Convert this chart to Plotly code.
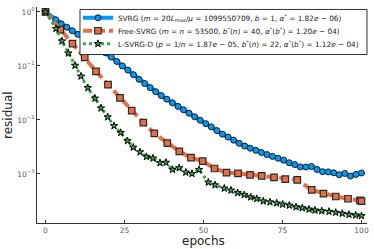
import plotly.graph_objects as go

# ---------------- data ----------------
svrg_epochs = [0, 3.2, 4.96, 6.72, 8.48, 10.24, 12.0, 13.76, 15.52, 17.28, 19.04, 20.8,
               22.56, 24.32, 26.08, 27.84, 29.6, 31.36, 33.12, 34.88, 36.64, 38.4, 40.16,
               41.92, 43.68, 45.44, 47.2, 48.96, 50.72, 52.48, 54.24, 56.0, 57.76, 59.52,
               61.28, 63.04, 64.8, 66.56, 68.32, 70.08, 71.84, 73.6, 75.36, 77.12, 78.88,
               80.64, 82.4, 84.16, 85.92, 87.68, 89.44, 91.2, 92.96, 94.72, 96.48, 98.24, 100.0]
svrg_res = [1.0, 0.718, 0.603, 0.522, 0.448, 0.384, 0.331, 0.281, 0.242, 0.207,
            0.174, 0.146, 0.121, 0.100, 0.0836, 0.0686, 0.0564, 0.0473, 0.0396, 0.0333,
            0.0282, 0.0242, 0.0207, 0.0178, 0.0154, 0.0133, 0.0114, 0.00984, 0.00853, 0.00743,
            0.00634, 0.00545, 0.00481, 0.00422, 0.00369, 0.00328, 0.00299, 0.00273, 0.00249, 0.00228,
            0.00211, 0.00195, 0.00180, 0.00161, 0.00149, 0.00135, 0.00134, 0.00137, 0.00121, 0.00110,
            0.00109, 0.00105, 0.000966, 0.00102, 0.000912, 0.000980, 0.00104]

free_epochs = [0, 4.68, 8.54, 12.41, 15.98, 19.78, 23.58, 27.28, 30.95, 34.43, 38.54, 42.34,
               46.04, 49.75, 53.48, 57.28, 60.92, 64.72, 68.42, 72.31, 75.89, 79.68, 84.24,
               87.97, 91.87, 95.73, 99.53, 100.0]
free_res = [1.0, 0.471, 0.259, 0.144, 0.0794, 0.0451, 0.0256, 0.0149, 0.00893, 0.00564,
            0.00371, 0.00262, 0.00200, 0.00172, 0.00126, 0.00106, 0.00102, 0.000959, 0.000920,
            0.000863, 0.000801, 0.000778, 0.000506, 0.000433, 0.000382, 0.000347, 0.000323, 0.000314]

lsvrg_epochs = [0, 3.32, 5.22, 7.22, 9.34, 11.23, 13.39, 15.66, 17.56, 19.68, 21.68, 23.80,
                25.95, 27.78, 29.91, 31.96, 34.02, 36.23, 38.13, 40.19, 42.31, 44.40, 46.36,
                48.58, 51.52, 53.64, 56.58, 58.70, 60.82, 62.91, 64.94, 66.84, 68.92, 71.04,
                73.16, 75.06, 77.15, 79.27, 81.27, 83.39, 85.28, 87.41, 89.72, 91.84, 93.92,
                96.04, 98.16, 100.0]
lsvrg_res = [1.0, 0.491, 0.288, 0.172, 0.102, 0.0644, 0.0393, 0.0251, 0.0165, 0.0113,
             0.00778, 0.00580, 0.00410, 0.00310, 0.00254, 0.00208, 0.00195, 0.00160, 0.00163, 0.00120,
             0.00129, 0.00107, 0.00101, 0.00120, 0.000700, 0.000623, 0.000541, 0.000497, 0.000446,
             0.000410, 0.000371, 0.000347, 0.000313, 0.000301, 0.000288, 0.000273, 0.000262,
             0.000244, 0.000234, 0.000221, 0.000212, 0.000206, 0.000201, 0.000193, 0.000185,
             0.000177, 0.000172, 0.000167]

names = [
    "SVRG (<i>m</i> = 20<i>L</i><sub>max</sub>/<i>μ</i> = 1099550709, <i>b</i> = 1, <i>α</i><sup>*</sup> = 1.82<i>e</i> − 06)",
    "Free-SVRG (<i>m</i> = <i>n</i> = 53500, <i>b</i><sup>*</sup>(<i>n</i>) = 40, <i>α</i><sup>*</sup>(<i>b</i><sup>*</sup>) = 1.20<i>e</i> − 04)",
    "L-SVRG-D (<i>p</i> = 1/<i>n</i> = 1.87<i>e</i> − 05, <i>b</i><sup>*</sup>(<i>n</i>) = 22, <i>α</i><sup>*</sup>(<i>b</i><sup>*</sup>) = 1.12<i>e</i> − 04)",
]

x_ticks = [0, 25, 50, 75, 100]
y_ticks = [1, 0.1, 0.01, 0.001]
y_ticktext = ["10<sup>0</sup>", "10<sup>−1</sup>", "10<sup>−2</sup>", "10<sup>−3</sup>"]

blue = "#009AFA"
orange = "#E36F47"
green = "#3EA44E"
FONT = "DejaVu Sans"

fig = go.Figure()
fig.add_trace(go.Scatter(
    x=svrg_epochs, y=svrg_res, name=names[0], mode="lines+markers", legend="legend",
    line=dict(color=blue, width=4),
    marker=dict(symbol="circle", size=6, color=blue, line=dict(color="#1a1a1a", width=1)),
))
fig.add_trace(go.Scatter(
    x=free_epochs, y=free_res, name=names[1], mode="lines+markers", legend="legend2",
    line=dict(color=orange, width=4, dash="9px,4px"),
    marker=dict(symbol="square", size=6.5, color=orange, line=dict(color="#2a2a2a", width=1.2)),
))
fig.add_trace(go.Scatter(
    x=lsvrg_epochs, y=lsvrg_res, name=names[2], mode="lines+markers", legend="legend3",
    line=dict(color=green, width=3, dash="dot"),
    marker=dict(symbol="star", size=5.5, color=green, line=dict(color="#000000", width=1)),
))

leg_common = dict(x=0.1242, xanchor="left", yanchor="middle",
                  bgcolor="rgba(0,0,0,0)", borderwidth=0, itemwidth=30,
                  font=dict(size=7.3, family=FONT, color="#222"))
fig.update_layout(
    template="none",
    width=374, height=249,
    margin=dict(l=37, r=7, t=3, b=26, pad=0),
    paper_bgcolor="white", plot_bgcolor="white",
    font=dict(family=FONT, color="#222"),
    showlegend=True,
    legend=dict(y=0.9500, **leg_common),
    legend2=dict(y=0.8900, **leg_common),
    legend3=dict(y=0.8300, **leg_common),
    shapes=[dict(type="rect", xref="paper", yref="paper", x0=0.1303, x1=1.0, y0=0.780, y1=0.9886,
                 line=dict(color="#333", width=1), fillcolor="white", layer="above")],
)
fig.update_xaxes(
    automargin=False,
    range=[-2.69, 101.74], tickvals=x_ticks, ticktext=[str(v) for v in x_ticks],
    showgrid=False, zeroline=False, showline=True, linecolor="#333", linewidth=1,
    ticks="inside", ticklen=3, tickcolor="#333", mirror=False,
    tickfont=dict(size=7.5, color="#555", family=FONT),
)
fig.update_yaxes(
    automargin=False,
    type="log", range=[-3.909, 0.091], tickvals=y_ticks, ticktext=y_ticktext,
    showgrid=False, zeroline=False, showline=True, linecolor="#333", linewidth=1,
    ticks="inside", ticklen=3, tickcolor="#333", mirror=False,
    tickfont=dict(size=7.5, color="#555", family=FONT),
)
fig.add_annotation(text="epochs", xref="paper", yref="paper", x=0.506, y=-0.082,
                   xanchor="center", yanchor="middle", showarrow=False,
                   font=dict(size=12, family=FONT, color="#222"))
fig.add_annotation(text="residual", xref="paper", yref="paper", x=-0.088, y=0.5,
                   xanchor="center", yanchor="middle", textangle=-90, showarrow=False,
                   font=dict(size=12, family=FONT, color="#222"))

fig.write_html("out.html", config={"displayModeBar": False},
               post_script="document.body.style.margin='0px';document.body.style.overflow='hidden';")
